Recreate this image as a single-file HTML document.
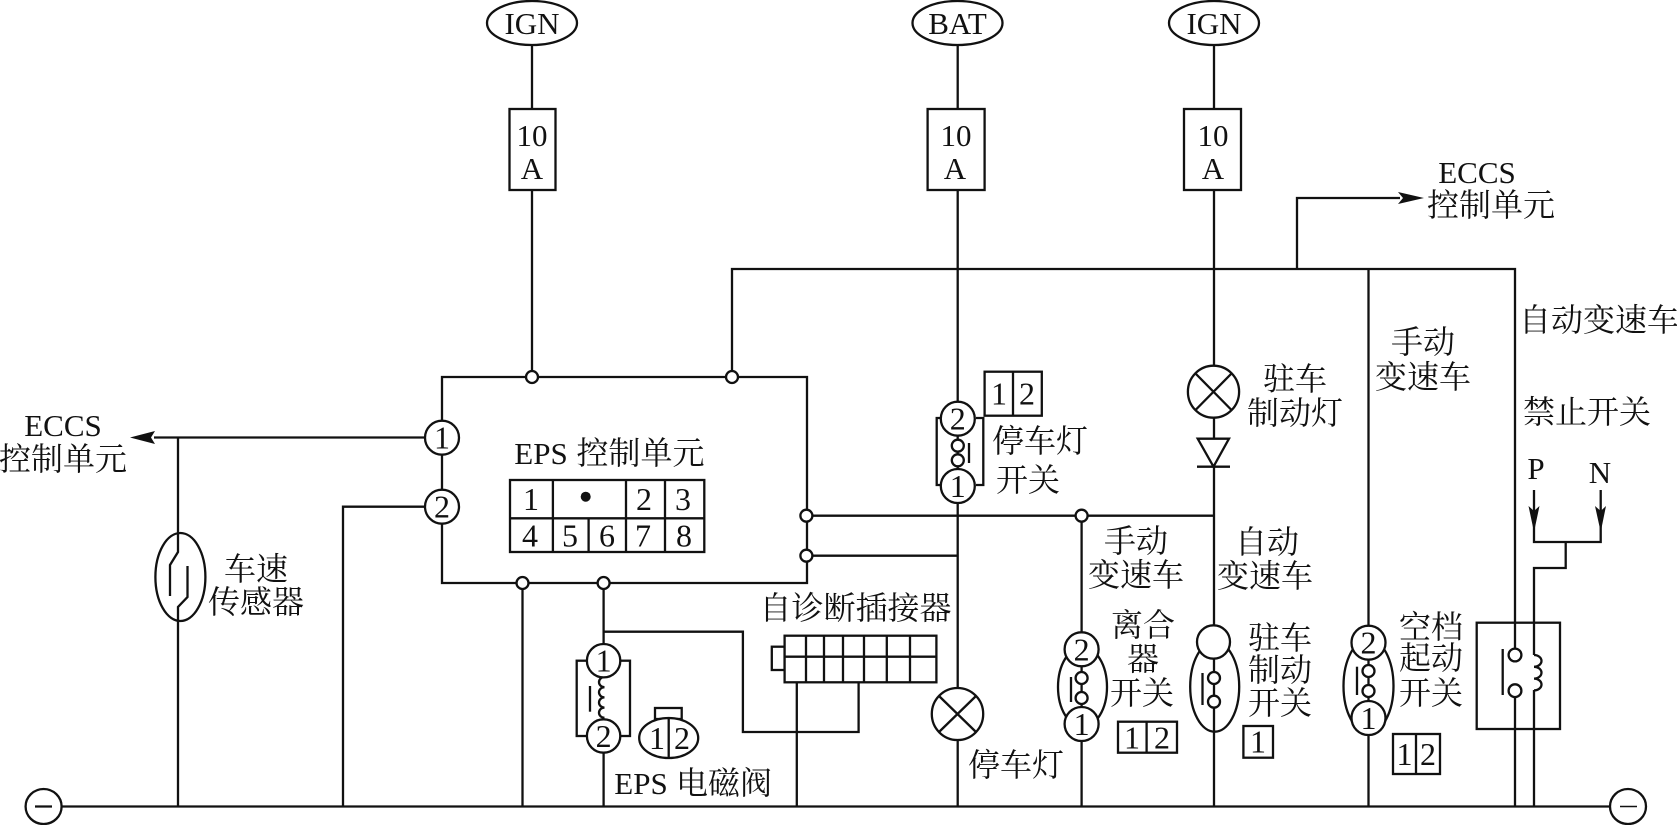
<!DOCTYPE html>
<html><head><meta charset="utf-8"><style>
html,body{margin:0;padding:0;background:#fff;width:1677px;height:825px;overflow:hidden}
svg{display:block}
text{font-family:"Liberation Serif","Noto Serif CJK SC",serif;font-size:31px;fill:#111;text-anchor:middle;dominant-baseline:auto}
.c{font-family:"Liberation Serif","Noto Serif CJK SC",serif;font-size:32px}
.n{font-size:32px}
.w{fill:none;stroke:#111;stroke-width:2.3}
.s{fill:#fff;stroke:#111;stroke-width:2.3}
.o{fill:none;stroke:#111;stroke-width:2.3}
</style></head><body>
<svg width="1677" height="825" viewBox="0 0 1677 825" xmlns="http://www.w3.org/2000/svg">
<rect width="1677" height="825" fill="#fff"/>
<!-- wires -->
<g class="w">
<path d="M62 806.5H1610"/>
<path d="M532 45V377M957.7 45V806M1214 45V806"/>
<path d="M732 377V269H1515V806M1368.5 269V806"/>
<path d="M1297 269V198H1400"/>
<path d="M442 377H807V583H442Z"/>
<path d="M425 437.5H154"/>
<path d="M178 437V806"/>
<path d="M425 506.7H343V806"/>
<path d="M522.5 583V806"/>
<path d="M603.6 583V806"/>
<path d="M603.6 631.7H742.9V732H858.6V682"/>
<path d="M796.8 682V806"/>
<path d="M806 515.7H1214M806 555.7H958"/>
<path d="M1081.6 515.7V806"/>
<path d="M1534 490V542H1600.7V490M1565.7 542V568H1534V655M1534 690V806"/>
</g>
<!-- arrowheads -->
<path d="M130 437.5L155 431L151 437.5L155 444Z" fill="#111"/>
<path d="M1424 198L1398 192L1403 198L1398 204Z" fill="#111"/>
<path d="M1534 532L1528.5 506L1534 511L1539.5 506Z" fill="#111"/>
<path d="M1600.7 532L1595 506L1600.7 511L1606 506Z" fill="#111"/>
<!-- top terminals -->
<ellipse class="s" cx="532" cy="23" rx="45" ry="22"/>
<ellipse class="s" cx="957.5" cy="23" rx="45" ry="22"/>
<ellipse class="s" cx="1214" cy="23" rx="45" ry="22"/>
<text x="532" y="34">IGN</text><text x="957.5" y="34">BAT</text><text x="1214" y="34">IGN</text>
<!-- fuses -->
<rect class="s" x="509.5" y="109" width="46" height="81"/>
<rect class="s" x="927.6" y="109" width="57" height="81"/>
<rect class="s" x="1184" y="109" width="57" height="81"/>
<text x="532" y="146">10</text><text x="532" y="179">A</text>
<text x="956" y="146">10</text><text x="955" y="179">A</text>
<text x="1213" y="146">10</text><text x="1213" y="179">A</text>
<!-- ground -->
<ellipse class="s" cx="43.6" cy="806.5" rx="18" ry="17.5"/><path class="w" d="M35 806.5H52"/>
<ellipse class="s" cx="1628" cy="806.5" rx="18" ry="17.5"/><path d="M1620 806.5H1637" fill="none" stroke="#111" stroke-width="1.5"/>
<!-- pins 1 2 on ECU -->
<circle class="s" cx="442" cy="437.7" r="17"/><circle class="s" cx="442" cy="506.7" r="17"/>
<text class="n" x="442" y="448.5">1</text><text class="n" x="442" y="517.5">2</text>
<!-- small nodes -->
<circle class="s" cx="532" cy="377" r="6"/><circle class="s" cx="732" cy="377" r="6"/>
<circle class="s" cx="522.5" cy="583" r="6"/><circle class="s" cx="603.6" cy="583" r="6"/>
<circle class="s" cx="806.4" cy="515.7" r="6"/><circle class="s" cx="806.4" cy="555.7" r="6"/>
<circle class="s" cx="1081.6" cy="515.7" r="6"/>
<!-- ECU table -->
<g class="o">
<rect x="510" y="480" width="194.3" height="72"/>
<path d="M510 518.3H704.3M552.9 480V552M626 480V552M665 480V552M588.6 518.3V552"/>
</g>
<circle cx="585.7" cy="496.7" r="5" fill="#111"/>
<text class="n" x="531" y="510">1</text><text class="n" x="644" y="510">2</text><text class="n" x="683" y="510">3</text>
<text class="n" x="530" y="546.5">4</text><text class="n" x="570" y="546.5">5</text><text class="n" x="607" y="546.5">6</text><text class="n" x="643" y="546.5">7</text><text class="n" x="684" y="546.5">8</text>
<text x="541" y="464">EPS</text><text class="c" x="640.5" y="464">控制单元</text>
<!-- ECCS left -->
<text x="63" y="436">ECCS</text><text class="c" x="63" y="470">控制单元</text>
<!-- ECCS top -->
<text x="1477" y="183">ECCS</text><text class="c" x="1491" y="216">控制单元</text>
<!-- speed sensor -->
<ellipse class="s" cx="180.4" cy="577" rx="25" ry="44"/>
<path class="w" d="M178 533V552L170 565V596M187.5 566V597L178 607V621"/>
<text class="c" x="256" y="580">车速</text><text class="c" x="256" y="613">传感器</text>
<!-- stop light switch -->
<path class="o" d="M940 418H936.7V485H940M976 418H983.3V485H976"/>
<path class="o" d="M969 443V463"/>
<circle class="s" cx="957.8" cy="445.7" r="6"/><circle class="s" cx="957.8" cy="460.3" r="6"/>
<circle class="s" cx="957.8" cy="418.7" r="17"/><circle class="s" cx="957.8" cy="486" r="17"/>
<text class="n" x="957.8" y="429.5">2</text><text class="n" x="957.8" y="497">1</text>
<rect class="s" x="984.6" y="371.7" width="57.2" height="44"/><path class="o" d="M1013 371.7V415.7"/>
<text class="n" x="999" y="404.5">1</text><text class="n" x="1027" y="404.5">2</text>
<text class="c" x="1040" y="452">停车灯</text><text class="c" x="1028" y="491">开关</text>
<!-- stop lamp -->
<ellipse class="s" cx="957.5" cy="714" rx="25.7" ry="26"/>
<path class="o" d="M939 696L976 732M976 696L939 732"/>
<text class="c" x="1016" y="776">停车灯</text>
<!-- parking lamp -->
<ellipse class="s" cx="1213.5" cy="391.7" rx="25.6" ry="26"/>
<path class="o" d="M1195.5 373.5L1231.5 410M1231.5 373.5L1195.5 410"/>
<text class="c" x="1295" y="390">驻车</text><text class="c" x="1295" y="424">制动灯</text>
<!-- diode -->
<path class="s" d="M1197.7 438.7H1229L1213.5 466.7Z"/><path class="o" d="M1197 466.7H1230"/>
<!-- labels above switches -->
<text class="c" x="1136" y="552">手动</text><text class="c" x="1136" y="586">变速车</text>
<text class="c" x="1267" y="553">自动</text><text class="c" x="1265" y="587">变速车</text>
<text class="c" x="1423" y="353">手动</text><text class="c" x="1423" y="388">变速车</text>
<text class="c" x="1599" y="331">自动变速车</text>
<text class="c" x="1587" y="423">禁止开关</text>
<text x="1536" y="479">P</text><text x="1600" y="483">N</text>
<!-- clutch switch -->
<ellipse class="o" cx="1082.5" cy="687" rx="24.5" ry="40"/>
<path class="o" d="M1071 677V702"/>
<circle class="s" cx="1081.6" cy="678" r="6"/><circle class="s" cx="1081.6" cy="698" r="6"/>
<circle class="s" cx="1081.6" cy="649.3" r="17"/><circle class="s" cx="1081.6" cy="724" r="17"/>
<text class="n" x="1081.6" y="660.5">2</text><text class="n" x="1081.6" y="735">1</text>
<text class="c" x="1143" y="636">离合</text><text class="c" x="1143" y="670">器</text><text class="c" x="1142" y="704">开关</text>
<rect class="s" x="1118" y="721.7" width="59" height="31"/><path class="o" d="M1146.6 721.7V752.7"/>
<text class="n" x="1132" y="748.5">1</text><text class="n" x="1162" y="748.5">2</text>
<!-- parking brake switch -->
<ellipse class="o" cx="1214.7" cy="686.7" rx="24.5" ry="45"/>
<path class="o" d="M1202.5 673V705"/>
<circle class="s" cx="1214" cy="678" r="6"/><circle class="s" cx="1214" cy="701.7" r="6"/>
<ellipse class="s" cx="1213.5" cy="642" rx="16.5" ry="16.7"/>
<text class="c" x="1280" y="649">驻车</text><text class="c" x="1280" y="681">制动</text><text class="c" x="1280" y="714">开关</text>
<rect class="s" x="1243.4" y="726" width="29.6" height="31.7"/>
<text class="n" x="1258" y="752.5">1</text>
<!-- neutral switch -->
<ellipse class="o" cx="1368.5" cy="686" rx="25" ry="47"/>
<path class="o" d="M1357 666.7V695"/>
<circle class="s" cx="1368.5" cy="671" r="6"/><circle class="s" cx="1368.5" cy="691" r="6"/>
<circle class="s" cx="1368.5" cy="642.7" r="17"/><circle class="s" cx="1368.5" cy="718" r="17"/>
<text class="n" x="1368.5" y="653.5">2</text><text class="n" x="1368.5" y="729">1</text>
<text class="c" x="1431" y="638">空档</text><text class="c" x="1431" y="669">起动</text><text class="c" x="1431" y="704">开关</text>
<rect class="s" x="1393" y="734" width="47" height="40"/><path class="o" d="M1416 734V774"/>
<text class="n" x="1404.5" y="765">1</text><text class="n" x="1428" y="765">2</text>
<!-- inhibitor relay -->
<rect class="o" x="1476.7" y="622.7" width="83.3" height="106.3"/>
<path class="o" d="M1502.7 649V695"/>
<path style="fill:#fff;stroke:none" d="M1509 662H1521V685H1509Z"/>
<circle class="s" cx="1515" cy="655" r="6.4"/><circle class="s" cx="1515" cy="690.7" r="6.4"/>
<path class="o" d="M1534 655a7.5 5.9 0 0 1 0 11.8a7.5 5.9 0 0 1 0 11.8a7.5 5.9 0 0 1 0 11.8"/>
<!-- solenoid -->
<rect class="o" x="576.7" y="660.7" width="53.3" height="75.3"/>
<path style="fill:#fff;stroke:none" d="M596 676H612V720H596Z"/>
<path class="o" d="M604.5 677a5.5 5.1 0 0 0 0 10.2a5.5 5.1 0 0 0 0 10.2a5.5 5.1 0 0 0 0 10.2a5.5 5.1 0 0 0 0 10.2"/>
<path class="o" d="M590 686V711.7"/>
<circle class="s" cx="603.6" cy="660.7" r="16.7"/><circle class="s" cx="603.6" cy="736" r="16.7"/>
<text class="n" x="603.6" y="671.5">1</text><text class="n" x="603.6" y="747">2</text>
<!-- solenoid connector -->
<rect class="o" x="655" y="708" width="26.7" height="11"/>
<ellipse class="s" cx="668.7" cy="738" rx="29.5" ry="20"/><path class="o" d="M668.7 718V758"/>
<text class="n" x="657" y="749">1</text><text class="n" x="682" y="749">2</text>
<text x="641" y="794">EPS</text><text class="c" x="724" y="794">电磁阀</text>
<!-- diagnosis connector -->
<rect class="s" x="771.8" y="646.7" width="12.8" height="23.3"/>
<rect class="s" x="784.6" y="635.7" width="151.8" height="46.6"/>
<path class="o" d="M784.6 656.7H936.4M806 635.7V682.3M824 635.7V682.3M843 635.7V682.3M864 635.7V682.3M886.8 635.7V682.3M910 635.7V682.3"/>
<text class="c" x="855.5" y="619">自诊断插接器</text>
</svg>
</body></html>
